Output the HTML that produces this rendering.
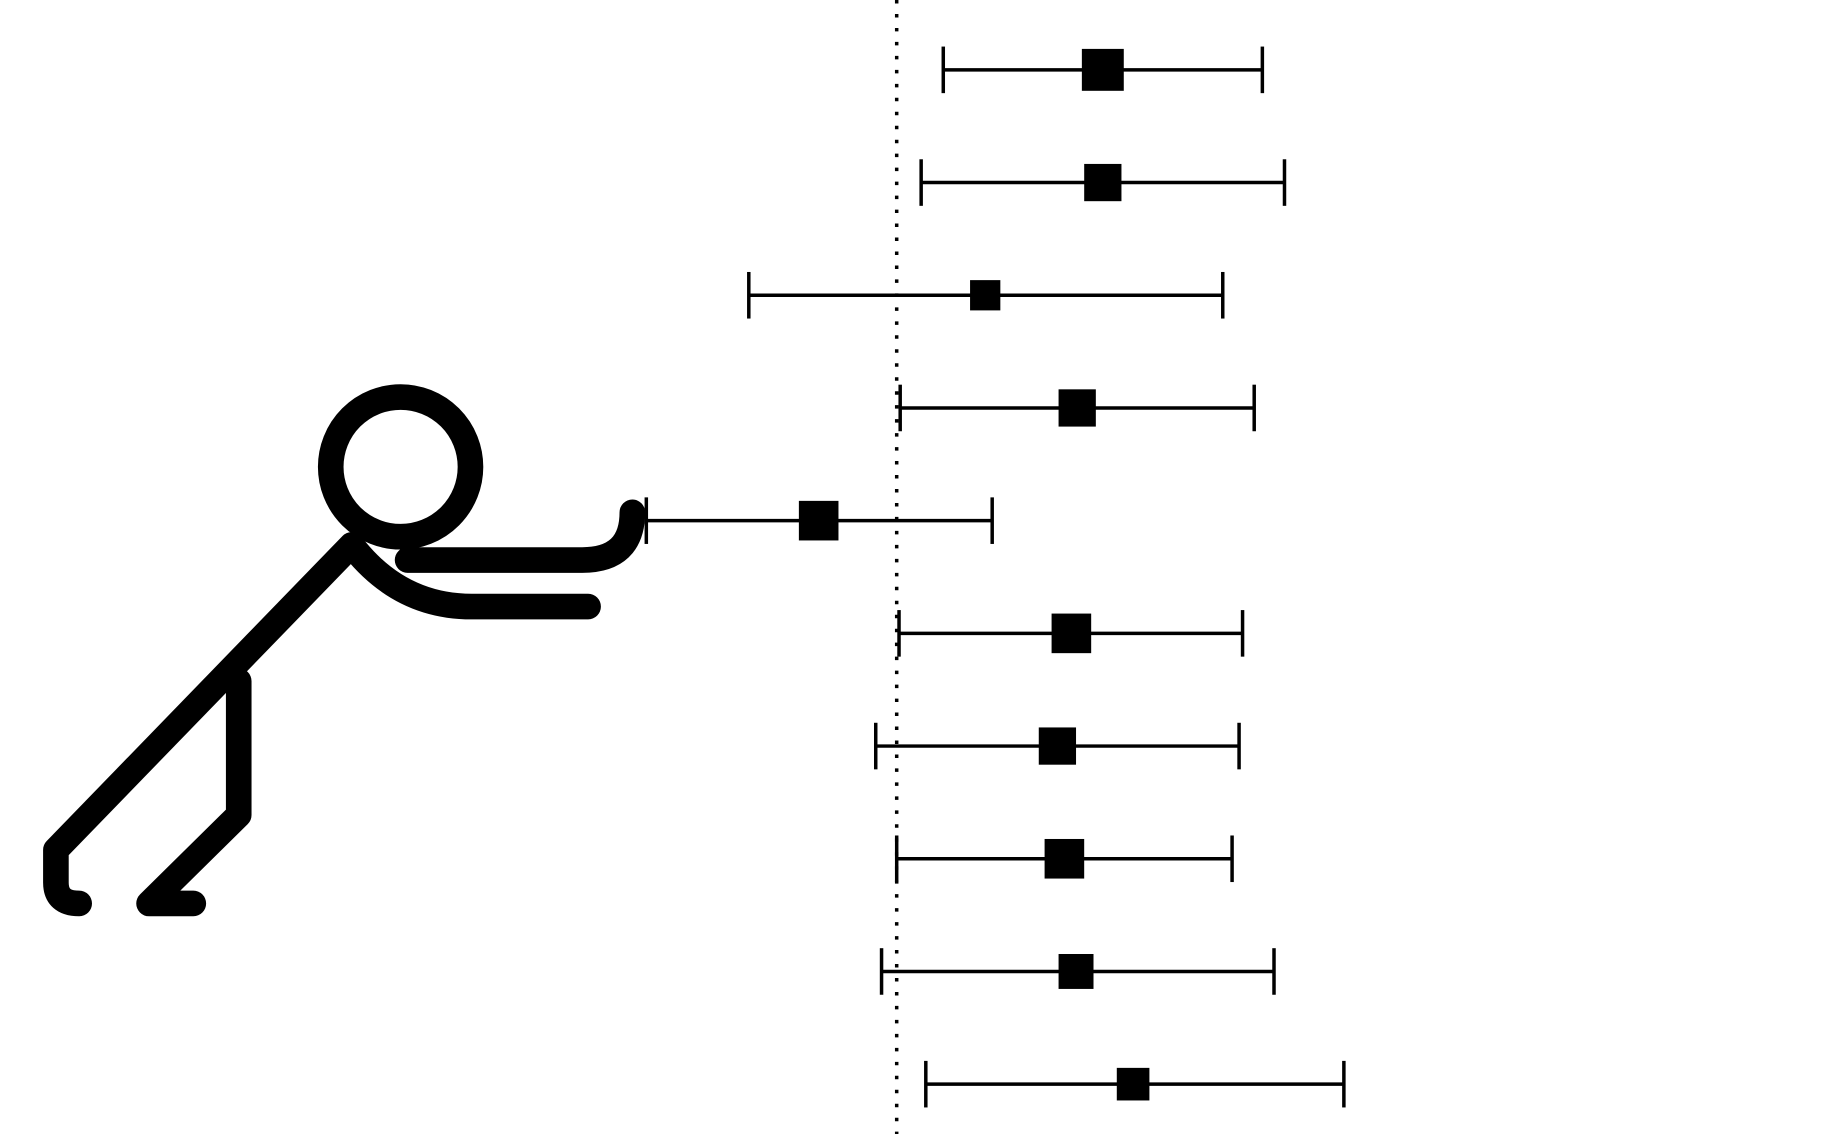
<!DOCTYPE html>
<html><head><meta charset="utf-8"><style>html,body{margin:0;padding:0;background:#fff;}svg{display:block}</style></head>
<body>
<svg width="1826" height="1134" viewBox="0 0 1568 974" preserveAspectRatio="none" xmlns="http://www.w3.org/2000/svg">
<g fill="none" stroke="#000" stroke-width="22" stroke-linecap="round" stroke-linejoin="round">
<circle cx="344" cy="401" r="60"/>
<path d="M302,468 L48,730 L48,758 Q48,776 68,776"/>
<path d="M205,585 L205,700 L128,776 L166,776"/>
<path d="M350,481 L500,481 Q543,481 543,440"/>
<path d="M305,472 Q345,521 405,521 L505,521"/>
</g>
<line x1="770" y1="0" x2="770" y2="974" stroke="#000" stroke-width="3" stroke-dasharray="3,9"/>
<g id="rows"></g>
</svg>
<script>
const lows = [0.40, 0.21, -1.27, 0.03, -2.15, 0.02, -0.18, 0.00, -0.13, 0.25];
const estimates = [1.77, 1.77, 0.76, 1.55, -0.67, 1.50, 1.38, 1.44, 1.54, 2.03];
const highs = [3.14, 3.33, 2.80, 3.07, 0.82, 2.97, 2.94, 2.88, 3.24, 3.84];
const weights = [36, 32, 26, 32, 34, 34, 32, 34, 30, 28];
const x = v => 770 + v * 100;
const y = i => 60 + i * 96.8;
const NS = "http://www.w3.org/2000/svg";
const g = document.getElementById('rows');
function mk(tag, attrs){const e=document.createElementNS(NS,tag);for(const k in attrs)e.setAttribute(k,attrs[k]);g.appendChild(e);return e;}
estimates.forEach((m,i)=>{
  const yy=y(i);
  const l=mk('line',{x1:x(lows[i]),x2:x(highs[i]),y1:yy,y2:yy,stroke:'#000','stroke-width':3});
  
  
  [lows[i],highs[i]].forEach(v=>{
    const c=mk('line',{x1:x(v),x2:x(v),y1:yy-20,y2:yy+20,stroke:'#000','stroke-width':3});
    
    
  });
  const s=weights[i];
  const r=mk('rect',{x:x(m)-s/2,y:yy-s/2,width:s,height:s,fill:'#000'});
  
  
});
</script>
</body></html>
